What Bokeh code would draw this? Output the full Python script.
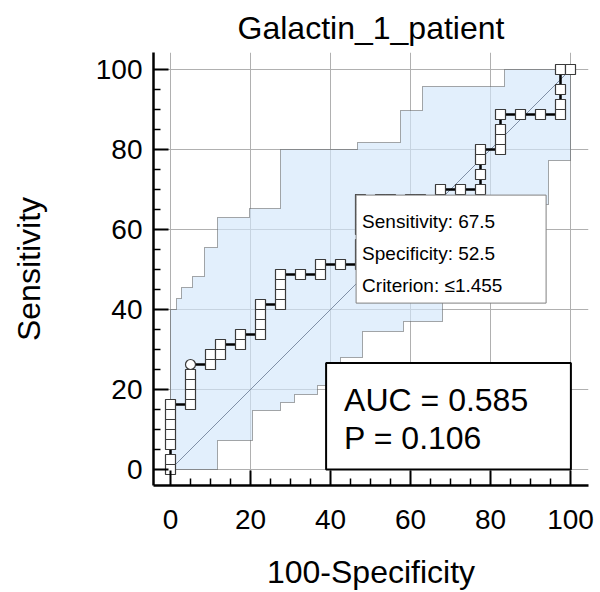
from bokeh.plotting import figure
from bokeh.models import Range1d, FixedTicker, BoxAnnotation, Label
from bokeh.embed import file_html
from bokeh.resources import INLINE

# ---------------- data ----------------
roc_fpr = [0, 0, 0, 0, 0, 0, 0,
           5, 5, 5, 5, 5,
           10, 10,
           12.5, 12.5,
           17.5, 17.5,
           22.5, 22.5, 22.5, 22.5,
           27.5, 27.5, 27.5, 27.5,
           32.5,
           37.5, 37.5,
           42.5,
           47.5, 47.5, 47.5, 47.5, 47.5, 47.5, 47.5,
           52.5, 55, 60, 62.5,
           67.5, 67.5,
           72.5,
           77.5, 77.5, 77.5, 77.5,
           82.5, 82.5, 82.5, 82.5,
           87.5, 92.5,
           97.5, 97.5, 97.5, 97.5,
           100]
roc_tpr = [0, 2.5, 6.25, 8.75, 11.25, 13.75, 16.25,
           16.25, 18.75, 21.25, 23.75, 26.25,
           26.25, 28.75,
           28.75, 31.25,
           31.25, 33.75,
           33.75, 36.25, 38.75, 41.25,
           41.25, 43.75, 46.25, 48.75,
           48.75,
           48.75, 51.25,
           51.25,
           51.25, 53.75, 56.25, 60, 62.5, 65, 67.5,
           67.5, 67.5, 67.5, 67.5,
           67.5, 70,
           70,
           70, 73.75, 77.5, 80,
           80, 82.5, 85, 88.75,
           88.75, 88.75,
           88.75, 91.25, 95, 100,
           100]
opt_fpr = [5]
opt_tpr = [26.25]

ci_upper_edges = [0, 1.5, 2.75, 5.5, 8.5, 11.75, 19.75, 27.5, 46.75, 57.5, 63, 83.5, 100]
ci_upper_levels = [40, 42.75, 45.5, 48.25, 55.5, 63, 65.25, 80, 81.75, 89.75, 95.75, 100]
ci_lower_edges = [0, 11.75, 20.5, 27.5, 31, 36.75, 42.5, 48, 58.25, 68, 80, 94.5, 100]
ci_lower_levels = [0, 7.25, 14.75, 16.75, 18.75, 21, 28, 34.5, 37, 52.5, 66.25, 77.25]

diag_x = [0, 100]
diag_y = [0, 100]

tick_values = [0, 20, 40, 60, 80, 100]
minor_tick_values = [5, 10, 15, 25, 30, 35, 45, 50, 55, 65, 70, 75, 85, 90, 95]

title_text = "Galactin_1_patient"
x_label = "100-Specificity"
y_label = "Sensitivity"
crit_lines = ["Sensitivity: 67.5", "Specificity: 52.5", "Criterion: \u22641.455"]
auc_lines = ["AUC = 0.585", "P = 0.106"]

# ---------------- layout / style ----------------
FONT = "Liberation Sans"


def steps(edges, levels):
    xs, ys = [], []
    for i, lv in enumerate(levels):
        xs += [edges[i], edges[i + 1]]
        ys += [lv, lv]
    return xs, ys


ux, uy = steps(ci_upper_edges, ci_upper_levels)
lx, ly = steps(ci_lower_edges, ci_lower_levels)
band_x = [0] + ux + lx[::-1]
band_y = [0] + uy + ly[::-1]

p = figure(width=600, height=592,
           x_range=Range1d(-4.25, 104.5), y_range=Range1d(-4, 104.25),
           output_backend="svg", toolbar_location=None,
           min_border_left=153, min_border_right=12,
           min_border_top=52, min_border_bottom=107)
p.outline_line_color = None
p.background_fill_color = "white"
p.border_fill_color = "white"

p.title.text = title_text
p.title.align = "center"
p.title.text_font = FONT
p.title.text_font_size = "32px"
p.title.text_font_style = "normal"
p.title.text_color = "black"
p.title.standoff = 13.5

for ax in (p.xaxis[0], p.yaxis[0]):
    ax.ticker = FixedTicker(ticks=tick_values, minor_ticks=minor_tick_values)
    ax.axis_line_width = 2.5
    ax.axis_line_color = "black"
    ax.major_tick_in = 15
    ax.major_tick_out = 0
    ax.minor_tick_in = 7
    ax.minor_tick_out = 0
    ax.major_tick_line_width = 2
    ax.minor_tick_line_width = 1.5
    ax.major_tick_line_color = "black"
    ax.minor_tick_line_color = "black"
    ax.major_label_text_font = FONT
    ax.major_label_text_font_size = "28px"
    ax.major_label_text_color = "black"
    ax.axis_label_text_font = FONT
    ax.axis_label_text_font_size = "32px"
    ax.axis_label_text_font_style = "normal"
    ax.axis_label_text_color = "black"

p.xaxis.axis_label = x_label
p.yaxis.axis_label = y_label
p.xaxis.major_label_standoff = 24
p.xaxis.axis_label_standoff = 22
p.yaxis.major_label_standoff = 11
p.yaxis.axis_label_standoff = 46

p.grid.grid_line_color = "#b0b0b0"
p.grid.grid_line_width = 1

# confidence band
p.patch(band_x, band_y, fill_color="#d2e7fb", fill_alpha=0.65,
        line_color="#505050", line_width=1, line_dash="1 1")

# reference diagonal
p.line(diag_x, diag_y, line_color="#7f8fa6", line_width=1)

# ROC curve
p.line(roc_fpr, roc_tpr, line_color="black", line_width=2.5)
sq_x = [x for x, y in zip(roc_fpr, roc_tpr) if not (x in opt_fpr and y in opt_tpr)]
sq_y = [y for x, y in zip(roc_fpr, roc_tpr) if not (x in opt_fpr and y in opt_tpr)]
p.scatter(sq_x, sq_y, marker="square", size=10, fill_color="white",
          line_color="#3a3a3a", line_width=1.2)
p.scatter(opt_fpr, opt_tpr, marker="circle", size=10, fill_color="white",
          line_color="#3a3a3a", line_width=1.2)

# criterion box
p.add_layout(BoxAnnotation(left=46.4, right=93.9, bottom=41.6, top=68.6,
                           fill_color="white", fill_alpha=1,
                           line_color="#808080", line_alpha=1, line_width=1))
for i, t in enumerate(crit_lines):
    p.add_layout(Label(x=47.9, y=62.1 - 8 * i, text=t, text_font=FONT,
                       text_font_size="19px", text_baseline="middle",
                       text_color="black"))

# AUC box
p.add_layout(BoxAnnotation(left=38.9, right=100.1, bottom=0.0, top=26.6,
                           fill_color="white", fill_alpha=1,
                           line_color="black", line_alpha=1, line_width=2))
for i, t in enumerate(auc_lines):
    p.add_layout(Label(x=43.4, y=17.3 - 9.5 * i, text=t, text_font=FONT,
                       text_font_size="32px", text_baseline="middle",
                       text_color="black"))

open("out.html", "w").write(file_html(p, INLINE))
